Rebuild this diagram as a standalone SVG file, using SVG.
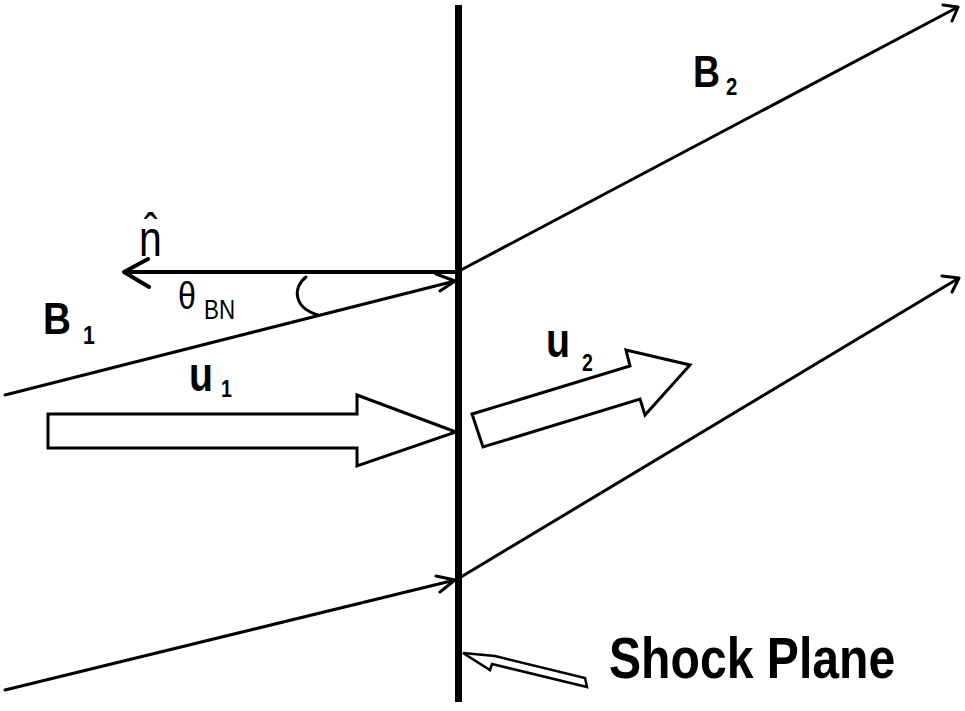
<svg xmlns="http://www.w3.org/2000/svg" width="965" height="711" viewBox="0 0 965 711">
<style>
.fl{fill:none;stroke:#000;stroke-width:3;stroke-linecap:round;stroke-linejoin:round}
.hollow{fill:#fff;stroke:#000;stroke-width:3;stroke-linejoin:miter}
.b{font-family:"Liberation Sans",Arial,sans-serif;font-weight:bold;fill:#000}
.r{font-family:"Liberation Sans",Arial,sans-serif;fill:#000}
</style>
<rect width="965" height="711" fill="#fff"/>
<g id="connectors">
  <path class="fl" d="M5 395 L455 281 M436 274 L455 281 L440 291"/>
  <path class="fl" d="M461 270 L958 7 M943 5 L958 7 L952 21"/>
  <path class="fl" d="M5 690 L455 580 M436 576 L455 580 L440 592"/>
  <path class="fl" d="M461 577 L959 278 M942 276 L959 278 L952 292"/>
  <path class="fl" style="stroke-width:4" d="M458 272 L124 272 M148 259 L124 272 L149 287"/>
  <path class="fl" d="M306 277 C292 288 294 308 318 315"/>
</g>
<g id="shock-plane">
  <line x1="458.5" y1="5" x2="458.5" y2="702" stroke="#000" stroke-width="7"/>
</g>
<g id="u1-arrow">
  <path class="hollow" d="M48 414 L357 414 L357 395 L456 432 L357 466 L357 448 L48 448 Z"/>
</g>
<g id="u2-arrow">
  <path class="hollow" d="M472 414 L630 366 L626 350 L690 365 L645 415 L640 399 L483 447 Z"/>
</g>
<g id="shock-pointer">
  <path class="hollow" style="stroke-width:2.5" d="M463 653 L495 656 L585 678 L587 687 L492 664 L490 670 Z"/>
</g>
<g id="labels">
  <text class="b" font-size="44" transform="translate(43,334) scale(0.88,1)">B</text>
  <text class="b" font-size="25" transform="translate(83,344) scale(0.85,1)">1</text>
  <text class="b" font-size="44" transform="translate(693,87) scale(0.85,1)">B</text>
  <text class="b" font-size="24" transform="translate(726,95) scale(0.85,1)">2</text>
  <text class="b" font-size="48" transform="translate(189,391) scale(0.82,1)">u</text>
  <text class="b" font-size="23" transform="translate(221,397) scale(0.85,1)">1</text>
  <text class="b" font-size="48" transform="translate(546,357) scale(0.82,1)">u</text>
  <text class="b" font-size="23" transform="translate(582,371) scale(0.85,1)">2</text>
  <text class="r" font-size="50" transform="translate(139,256) scale(0.82,1)">n̂</text>
  <text class="r" font-size="38" transform="translate(178,309) scale(0.85,1)">θ</text>
  <text class="r" font-size="28" transform="translate(204,319) scale(0.8,1)">BN</text>
  <text class="b" font-size="58" transform="translate(609,678) scale(0.83,1)">Shock Plane</text>
</g>
</svg>
